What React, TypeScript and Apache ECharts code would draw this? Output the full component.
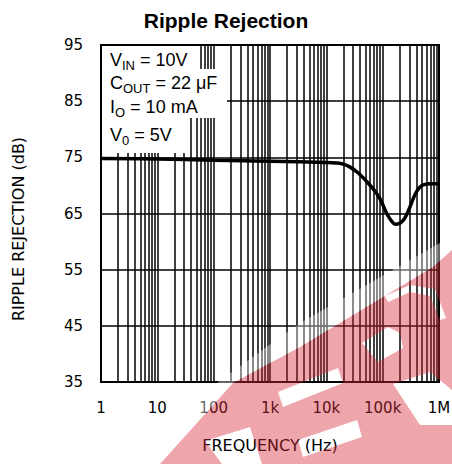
import React, { useEffect, useRef } from "react";
import * as echarts from "echarts";

// ---- data ----
const freqHz = [1, 10, 100, 1000, 10000, 15000, 20000, 26000, 36000, 52000, 70000, 89000, 118000, 145000, 166000, 195000, 233000, 270000, 306000, 350000, 400000, 460000, 525000, 700000, 1000000];
const rippleDb = [74.8, 74.7, 74.5, 74.3, 74.1, 74.0, 73.8, 73.3, 72.3, 70.7, 69.2, 67.7, 65.0, 63.6, 63.1, 63.2, 63.8, 64.9, 66.2, 67.7, 68.9, 69.7, 70.1, 70.3, 70.3];
const xTickLabels = ["1", "10", "100", "1k", "10k", "100k", "1M"];
const yMin = 35;
const yMax = 95;
const yStep = 10;
const minorMultipliers = [2, 3, 4, 5, 6, 7, 8, 9];
const decades = [1, 10, 100, 1000, 10000, 100000];
const annotationLines = [
  "{m|V}{s|IN}{m| = 10V}",
  "{m|C}{s|OUT}{m| = 22 μF}",
  "{m|I}{s|O}{m| = 10 mA}",
  "{m|V}{s|0}{m| = 5V}",
];
const annotationTops = [47.5, 70.5, 94.5, 122.5];

// ---- watermark (decorative) geometry ----
const WM_OUTER = [[160, 464], [233, 383], [300, 347], [433, 267], [452, 250], [452, 464]];
const WM_HOLES = [
  [[278, 392], [338, 368], [343, 383], [283, 407]],
  [[298, 440], [357, 420], [362, 437], [303, 457]],
  [[205, 441], [250, 427], [262, 464], [222, 464]],
  [[362, 343], [388, 327], [400, 333], [403, 348], [378, 362]],
  [[393, 384], [430, 372], [452, 390], [452, 425], [420, 425]],
  [[385, 296], [410, 285], [435, 289], [446, 318], [440, 320], [430, 296], [410, 292], [388, 302]],
];
const WM_FADE = [[145, 464], [200, 395], [300, 323], [440, 243], [452, 236], [452, 250], [433, 267], [300, 347], [233, 383], [160, 464]];

function signedArea(p: number[][]) {
  let s = 0;
  for (let i = 0; i < p.length; i++) {
    const a = p[i];
    const b = p[(i + 1) % p.length];
    s += a[0] * b[1] - b[0] * a[1];
  }
  return s;
}
function ring(p: number[][], positive: boolean) {
  const pts = signedArea(p) > 0 === positive ? p : [...p].reverse();
  return "M" + pts.map((q) => q[0] + "," + q[1]).join("L") + "Z";
}
const wmD = ring(WM_OUTER, true) + WM_HOLES.map((h) => ring(h, false)).join("");
let registered = false;
function registerShapes() {
  if (registered) return;
  echarts.graphic.registerShape("wmlogo", echarts.graphic.extendPath(wmD, {}));
  registered = true;
}

export default function App() {
  const ref = useRef<HTMLDivElement>(null);
  useEffect(() => {
    if (!ref.current) return;
    registerShapes();
    const chart = echarts.init(ref.current, null, { renderer: "svg" });
    const gridVals: number[] = [];
    decades.forEach((d) => {
      minorMultipliers.forEach((m) => gridVals.push(d * m));
      if (d > 1) gridVals.push(d);
    });
    const tickFont = "DejaVu Sans";
    const option: any = {
      animation: false,
      backgroundColor: "#fff",
      title: {
        text: "Ripple Rejection",
        left: "center",
        top: 5,
        textStyle: { fontFamily: "Liberation Sans", fontWeight: "bold", fontSize: 21, color: "#000" },
      },
      grid: {
        left: 101,
        right: 13,
        top: 45,
        bottom: 82,
        show: true,
        borderColor: "#000",
        borderWidth: 2,
        backgroundColor: "transparent",
        outerBoundsMode: "none",
        containLabel: false,
      },
      xAxis: {
        type: "log",
        logBase: 10,
        min: 1,
        max: 1000000,
        axisLine: { show: false },
        axisTick: { show: false },
        splitLine: { show: false },
        axisLabel: {
          margin: 18,
          fontFamily: tickFont,
          fontSize: 15,
          color: "#000",
          showMaxLabel: true,
          showMinLabel: true,
          formatter: (v: number) => xTickLabels[Math.round(Math.log10(v))] ?? "",
        },
        name: "FREQUENCY (Hz)",
        nameLocation: "middle",
        nameGap: 55,
        nameTextStyle: { fontFamily: tickFont, fontSize: 16, color: "#000" },
      },
      yAxis: {
        type: "value",
        min: yMin,
        max: yMax,
        interval: yStep,
        axisLine: { show: false },
        axisTick: { show: false },
        splitLine: { show: true, lineStyle: { color: "#000", width: 1.6 } },
        axisLabel: { margin: 18, fontFamily: tickFont, fontSize: 15, color: "#000" },
      },
      series: [
        {
          type: "line",
          data: [],
          z: 1,
          silent: true,
          markLine: {
            silent: true,
            symbol: ["none", "none"],
            label: { show: false },
            lineStyle: { color: "#000", width: 1.5, type: "solid" },
            emphasis: { disabled: true },
            data: gridVals.map((v) => ({ xAxis: v })),
          },
        },
        {
          type: "line",
          z: 3,
          data: freqHz.map((f, i) => [f, rippleDb[i]]),
          showSymbol: false,
          symbol: "none",
          smooth: 0.4,
          lineStyle: { color: "#000", width: 3.5 },
          silent: true,
        },
      ],
      graphic: [
        {
          type: "polygon",
          z: 50,
          silent: true,
          shape: { points: [[102, 46], [200, 46], [200, 69], [227, 69], [227, 118], [189, 118], [189, 153], [102, 153]] },
          style: { fill: "#fff" },
        },
        ...annotationLines.map((t, i) => ({
          type: "text",
          z: 60,
          silent: true,
          x: 110,
          y: annotationTops[i],
          style: {
            text: t,
            align: "left",
            verticalAlign: "top",
            fill: "#000",
            rich: {
              m: { fontFamily: "Liberation Sans", fontSize: 18, lineHeight: 24, color: "#000" },
              s: { fontFamily: "Liberation Sans", fontSize: 13, lineHeight: 11, verticalAlign: "bottom", color: "#000" },
            },
          },
        })),
        {
          type: "text",
          z: 60,
          silent: true,
          x: 18,
          y: 229,
          rotation: Math.PI / 2,
          style: {
            text: "RIPPLE REJECTION (dB)",
            fontFamily: tickFont,
            fontSize: 16,
            fill: "#000",
            align: "center",
            verticalAlign: "middle",
          },
        },
        {
          type: "polygon",
          z: 190,
          silent: true,
          shape: { points: WM_FADE },
          style: { fill: "rgba(255,255,255,0.4)" },
        },
        {
          type: "wmlogo",
          z: 200,
          silent: true,
          x: 0,
          y: 0,
          scaleX: 1,
          scaleY: 1,
          style: { fill: "rgba(214,40,55,0.42)" },
        },
      ],
    };
    chart.setOption(option);
    return () => chart.dispose();
  }, []);
  return <div ref={ref} style={{ position: "fixed", left: 0, top: 0, width: 452, height: 464 }} />;
}
